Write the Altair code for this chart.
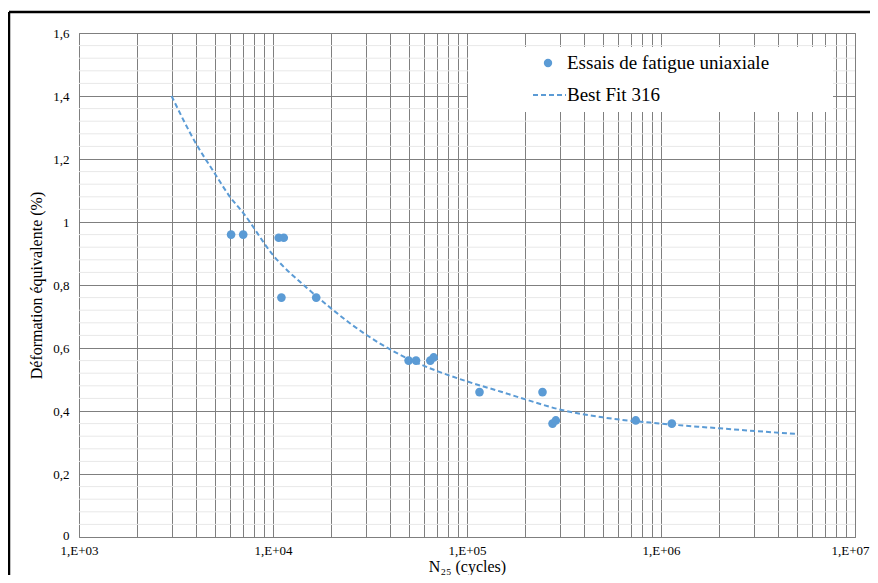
import altair as alt
import pandas as pd

essai_n = [6080, 7020, 10700, 11360, 11050, 16700, 50000, 54600, 64700, 67300,
           116000, 245000, 276000, 287000, 741000, 1137000]
essai_def = [0.96, 0.96, 0.95, 0.95, 0.76, 0.76, 0.56, 0.56, 0.56, 0.57,
             0.46, 0.46, 0.36, 0.37, 0.37, 0.36]

# Best fit curve
fit_n = [3000, 4000, 5000, 6000, 7000, 10000, 15000, 20000, 25000, 35000, 50000,
         70000, 100000, 150000, 200000, 300000, 500000, 1000000, 2000000, 5000000]
fit_def = [1.40, 1.25, 1.155, 1.08, 1.03, 0.895, 0.79, 0.725, 0.678, 0.617, 0.565,
           0.527, 0.494, 0.461, 0.437, 0.405, 0.38, 0.36, 0.345, 0.327]

# Axis tick values
x_ticks = [1000, 2000, 3000, 4000, 5000, 6000, 7000, 8000, 9000,
           10000, 20000, 30000, 40000, 50000, 60000, 70000, 80000, 90000,
           100000, 200000, 300000, 400000, 500000, 600000, 700000, 800000, 900000,
           1000000, 2000000, 3000000, 4000000, 5000000, 6000000, 7000000, 8000000, 9000000,
           10000000]
y_ticks = [0, 0.2, 0.4, 0.6, 0.8, 1.0, 1.2, 1.4, 1.6]
y_minor = [0.04, 0.08, 0.12, 0.16, 0.24, 0.28, 0.32, 0.36, 0.44, 0.48, 0.52, 0.56,
           0.64, 0.68, 0.72, 0.76, 0.84, 0.88, 0.92, 0.96, 1.04, 1.08, 1.12, 1.16,
           1.24, 1.28, 1.32, 1.36, 1.44, 1.48, 1.52, 1.56]

legend_labels = ["Essais de fatigue uniaxiale", "Best Fit 316"]

W, H = 776, 504
FONT = "Liberation Serif"
BLUE = "#5B9BD5"
GRID = "#7f7f7f"

xscale = alt.Scale(type="log", domain=[1000, 10000000], nice=False)
yscale = alt.Scale(domain=[0, 1.6], nice=False, zero=True)

df_pts = pd.DataFrame({"n": essai_n, "d": essai_def})
df_fit = pd.DataFrame({"n": fit_n, "d": fit_def})
df_minor = pd.DataFrame({"v": y_minor})
one = pd.DataFrame({"a": [0]})

label_expr = ("datum.value==1000?'1,E+03':datum.value==10000?'1,E+04':"
              "datum.value==100000?'1,E+05':datum.value==1000000?'1,E+06':"
              "datum.value==10000000?'1,E+07':''")

xaxis = alt.Axis(
    values=x_ticks, grid=True, gridColor=GRID, gridWidth=1, ticks=False,
    domain=False, labelExpr=label_expr, labelOverlap=False, labelFlush=False,
    labelOffset={"condition": {"test": "datum.value >= 10000000", "value": -5}, "value": 0},
    labelFont=FONT, labelFontSize=13, labelColor="black", labelPadding=7,
    title="N₂₅ (cycles)", titleFont=FONT, titleFontSize=16,
    titleFontWeight="normal", titleColor="black", titlePadding=1)

yaxis = alt.Axis(
    values=y_ticks, grid=True, gridColor=GRID, gridWidth=1, ticks=False,
    domain=False, labelExpr="replace(format(datum.value,'~g'),'.',',')",
    labelOffset={"condition": {"test": "datum.value == 0", "value": -2}, "value": 0},
    labelFont=FONT, labelFontSize=13, labelColor="black", labelPadding=10,
    title="Déformation équivalente (%)", titleFont=FONT, titleFontSize=16,
    titleFontWeight="normal", titleColor="black", titlePadding=8)

minor = alt.Chart(df_minor).mark_rule(color="#e8e8e8", strokeWidth=1).encode(
    y=alt.Y("v:Q", scale=yscale, axis=yaxis)
)

fit = alt.Chart(df_fit).mark_line(
    color=BLUE, strokeWidth=2, strokeDash=[5, 3], interpolate="monotone"
).encode(
    x=alt.X("n:Q", scale=xscale, axis=xaxis),
    y=alt.Y("d:Q", scale=yscale, axis=yaxis),
)

pts = alt.Chart(df_pts).mark_circle(size=75, color=BLUE, opacity=1).encode(
    x=alt.X("n:Q", scale=xscale, axis=xaxis),
    y=alt.Y("d:Q", scale=yscale, axis=yaxis),
)

# Legend (manual)
leg_box = alt.Chart(one).mark_rect(fill="white").encode(
    x=alt.value(389), x2=alt.value(754), y=alt.value(14), y2=alt.value(79)
)
leg_pt = alt.Chart(one).mark_circle(size=70, color=BLUE, opacity=1).encode(
    x=alt.value(469), y=alt.value(30)
)
leg_line = alt.Chart(one).mark_rule(color=BLUE, strokeWidth=2, strokeDash=[5, 3]).encode(
    x=alt.value(454), x2=alt.value(487), y=alt.value(62)
)
leg_t1 = alt.Chart(one).mark_text(
    align="left", baseline="middle", font=FONT, fontSize=19, color="black",
    text=legend_labels[0]
).encode(x=alt.value(488), y=alt.value(30))
leg_t2 = alt.Chart(one).mark_text(
    align="left", baseline="middle", font=FONT, fontSize=19, color="black",
    text=legend_labels[1]
).encode(x=alt.value(488), y=alt.value(62))

# Outer frame (left and top edges)
frame_l = alt.Chart(one).mark_rule(color="black", strokeWidth=2.5).encode(
    x=alt.value(-70), y=alt.value(-21), y2=alt.value(H + 80)
)
frame_t = alt.Chart(one).mark_rule(color="black", strokeWidth=2.5).encode(
    x=alt.value(-70), x2=alt.value(W + 40), y=alt.value(-21)
)

chart = alt.layer(
    minor, fit, pts, leg_box, leg_pt, leg_line, leg_t1, leg_t2, frame_l, frame_t
).properties(
    width=W, height=H,
    autosize=alt.AutoSizeParams(type="none"),
    padding={"left": 71, "top": 25, "right": 15, "bottom": 38},
    background="white",
).configure_view(stroke=GRID, strokeWidth=1)

chart.save("out.html", embed_options={"renderer": "svg", "actions": False})
